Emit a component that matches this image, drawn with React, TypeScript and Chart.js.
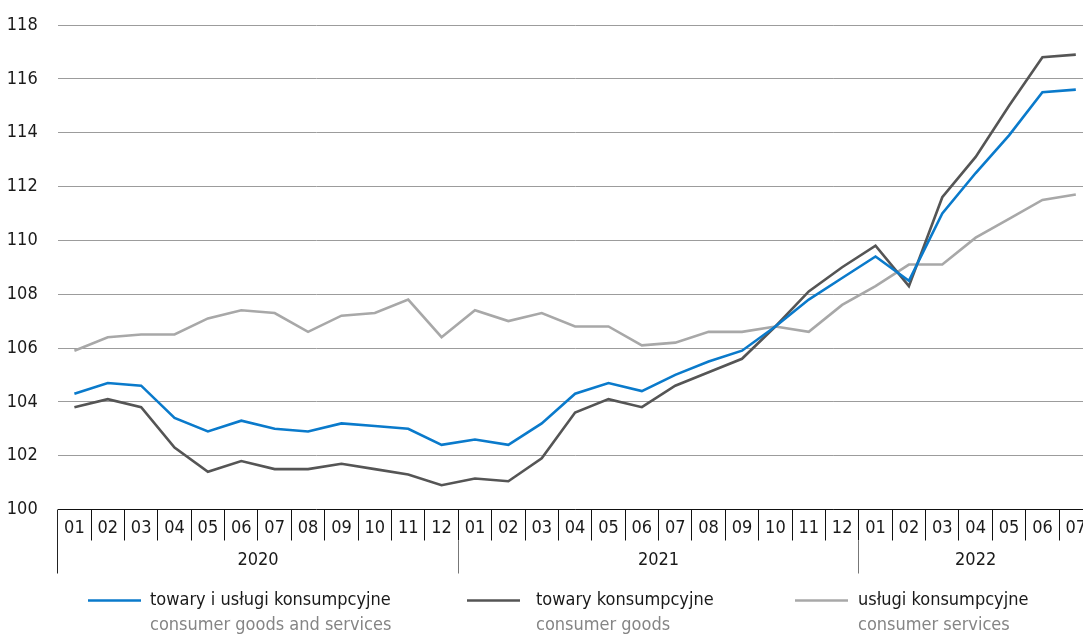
import React, { useEffect, useRef } from 'react';
import { Chart, registerables } from 'chart.js';

Chart.register(...registerables);

const months = [
  '01', '02', '03', '04', '05', '06', '07', '08', '09', '10', '11', '12',
  '01', '02', '03', '04', '05', '06', '07', '08', '09', '10', '11', '12',
  '01', '02', '03', '04', '05', '06', '07',
];
const years = ['2020', '2021', '2022'];
const yearStarts = [0, 12, 24];

const namesPl = ['towary i usługi konsumpcyjne', 'towary konsumpcyjne', 'usługi konsumpcyjne'];
const namesEn = ['consumer goods and services', 'consumer goods', 'consumer services'];

const totalValues = [
  104.3, 104.7, 104.6, 103.4, 102.9, 103.3, 103.0, 102.9, 103.2, 103.1, 103.0, 102.4,
  102.6, 102.4, 103.2, 104.3, 104.7, 104.4, 105.0, 105.5, 105.9, 106.8, 107.8, 108.6,
  109.4, 108.5, 111.0, 112.5, 113.9, 115.5, 115.6,
];
const goodsValues = [
  103.8, 104.1, 103.8, 102.3, 101.4, 101.8, 101.5, 101.5, 101.7, 101.5, 101.3, 100.9,
  101.15, 101.05, 101.9, 103.6, 104.1, 103.8, 104.6, 105.1, 105.6, 106.8, 108.1, 109.0,
  109.8, 108.3, 111.6, 113.1, 115.0, 116.8, 116.9,
];
const servicesValues = [
  105.9, 106.4, 106.5, 106.5, 107.1, 107.4, 107.3, 106.6, 107.2, 107.3, 107.8, 106.4,
  107.4, 107.0, 107.3, 106.8, 106.8, 106.1, 106.2, 106.6, 106.6, 106.8, 106.6, 107.6,
  108.3, 109.1, 109.1, 110.1, 110.8, 111.5, 111.7,
];

const yMin = 100;
const yMax = 118;
const yStep = 2;

const colors = ['#0a7acb', '#555555', '#a8a8a8'];
const FONT = '"Liberation Sans Narrow", "DejaVu Sans Condensed", "Arial Narrow", sans-serif';
const FS = 18;

const overlayPlugin = {
  id: 'overlay',
  afterDraw(chart: any) {
    const ctx = chart.ctx;
    const xs = chart.scales.x;
    const area = chart.chartArea;
    const w = xs.getPixelForValue(1) - xs.getPixelForValue(0);
    const bottom = area.bottom;
    ctx.save();
    // year separators (long)
    ctx.lineWidth = 1;
    yearStarts.forEach((i, k) => {
      const x = Math.round(xs.getPixelForValue(i) - w / 2 - 0.5) + 0.5;
      ctx.strokeStyle = k === 0 ? '#222' : '#777';
      ctx.beginPath();
      ctx.moveTo(x, bottom + (k === 0 ? 0 : 31));
      ctx.lineTo(x, bottom + 64);
      ctx.stroke();
    });
    // year labels
    ctx.fillStyle = '#1a1a1a';
    ctx.font = `${FS}px ${FONT}`;
    ctx.textAlign = 'center';
    ctx.textBaseline = 'middle';
    years.forEach((yr, k) => {
      const s = yearStarts[k];
      const e = k + 1 < yearStarts.length ? yearStarts[k + 1] - 1 : months.length - 1;
      const x = (xs.getPixelForValue(s) + xs.getPixelForValue(e)) / 2;
      ctx.fillText(yr, x, bottom + 51);
    });
    // legend
    const lineXs = [88, 467, 795];
    const textXs = [150, 536, 858];
    ctx.textAlign = 'left';
    namesPl.forEach((name, k) => {
      ctx.strokeStyle = colors[k];
      ctx.lineWidth = 2.5;
      ctx.beginPath();
      ctx.moveTo(lineXs[k], 600.5);
      ctx.lineTo(lineXs[k] + 53, 600.5);
      ctx.stroke();
      ctx.fillStyle = '#1a1a1a';
      ctx.font = `${FS}px ${FONT}`;
      ctx.fillText(name, textXs[k], 600);
      ctx.fillStyle = '#858585';
      ctx.fillText(namesEn[k], textXs[k], 625);
    });
    ctx.restore();
  },
};

export default function App() {
  const ref = useRef<HTMLCanvasElement>(null);
  useEffect(() => {
    if (!ref.current) return;
    const chart = new Chart(ref.current, {
      type: 'line',
      data: {
        labels: months,
        datasets: [
          { label: namesPl[0], data: totalValues, borderColor: colors[0], backgroundColor: colors[0], borderWidth: 2.6, pointRadius: 0, tension: 0 },
          { label: namesPl[1], data: goodsValues, borderColor: colors[1], backgroundColor: colors[1], borderWidth: 2.6, pointRadius: 0, tension: 0 },
          { label: namesPl[2], data: servicesValues, borderColor: colors[2], backgroundColor: colors[2], borderWidth: 2.6, pointRadius: 0, tension: 0 },
        ],
      },
      options: {
        responsive: false,
        animation: false,
        layout: { padding: { top: 25, right: 7.5, left: 0, bottom: 0 } },
        plugins: { legend: { display: false }, tooltip: { enabled: false } },
        scales: {
          x: {
            type: 'category',
            offset: true,
            border: { display: false },
            grid: {
              offset: true,
              drawOnChartArea: false,
              drawTicks: true,
              tickLength: 31,
              color: '#111',
              lineWidth: 1,
            },
            ticks: {
              autoSkip: false,
              maxRotation: 0,
              padding: -23,
              color: '#1a1a1a',
              font: { family: FONT, size: FS },
            },
            afterFit: (scale: any) => { scale.height = 125.5; },
          },
          y: {
            min: yMin,
            max: yMax,
            border: { display: false },
            grid: {
              drawTicks: true,
              tickLength: 20,
              tickColor: 'rgba(0,0,0,0)',
              color: (c: any) => (c.tick && c.tick.value === yMin ? '#111' : '#9c9c9c'),
              lineWidth: 1,
            },
            ticks: {
              stepSize: yStep,
              padding: 0,
              color: '#1a1a1a',
              font: { family: FONT, size: FS },
            },
            afterFit: (scale: any) => { scale.width = 57.7; },
          },
        },
      },
      plugins: [overlayPlugin],
    });
    return () => chart.destroy();
  }, []);
  return (
    <div style={{ position: 'absolute', left: 0, top: 0, width: 1083, height: 635, overflow: 'hidden', background: '#fff' }}>
      <canvas ref={ref} width={1100} height={635} style={{ display: 'block' }} />
    </div>
  );
}
